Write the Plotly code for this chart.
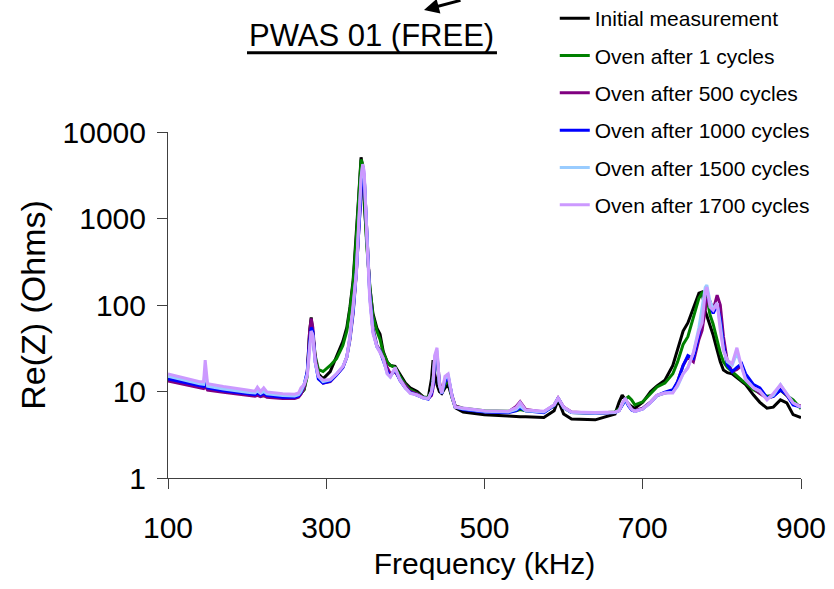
import plotly.graph_objects as go

freq_khz = [100,120,140,145,147,150,170,200,210,213,
            217,221,225,245,260,265,268,272,276,279,
            281,283,286,290,296,305,313,321,326,330,
            334,338,341,344,346,348,351,355,359,364,
            368,372,377,381,387,393,400,406,415,423,
            429,433,435,437,440,443,446,450,454,459,
            463,473,500,530,540,545,552,575,588,593,
            600,610,640,665,670,674,678,682,686,690,
            700,710,718,728,738,744,751,757,764,771,
            775,779,781,785,789,794,798,802,807,813,
            819,825,830,840,848,857,865,874,882,890,
            900]

initial = [13.5,12.3,11.3,11.1,11.5,10.8,10.1,9.3,9.1,9.2,
           8.9,9.0,8.8,8.5,8.5,8.8,9.4,10.5,16,50,
           72,48,24,16,14,17,25,38,55,95,
           194,620,1800,5100,4000,1500,500,160,80,54,
           46,29,22,20,19.5,16,12.5,11,10,8.6,
           8.5,14,23,16,12,10,9.5,11,12,8.5,
           6.5,5.8,5.4,5.2,5.1,5.1,5.1,5.0,6.0,8.0,
           5.5,4.8,4.7,5.5,7.5,9.1,8.0,7.2,6.7,6.4,
           7.5,10,11.6,13.5,20,30,50,62,95,137,
           141,85,75,59,45,30,22,17.7,16.5,16,
           14.5,13.3,12,9.1,7.5,6.4,6.6,8.0,7.4,5.4,
           5.0]

oven_1 = [14,12.8,11.8,11.6,12,11.2,10.4,9.5,9.3,9.5,
          9.1,9.3,9.0,8.7,8.7,9.0,9.5,10.5,15,45,
          66,48,26,18,17,20,24,34,50,90,
          180,600,1700,4800,4200,1600,520,170,75,50,
          40,28,22,20,19,15,12,10.5,9.5,8.6,
          8.6,10,14,20,25,12,9.6,12,14,8.5,
          6.8,6.4,6.0,5.9,6.0,6.2,6.0,5.8,6.8,8.3,
          6.5,5.7,5.6,5.8,6.3,7.0,8.2,8.7,8.0,7.0,
          7.6,9.5,11.3,12.5,16,22,35,43,72,120,
          138,141,125,77,60,39,28,22,19,17,
          15,13.5,12.5,10.5,9.6,8.8,9.0,10.4,9.0,8.0,
          6.3]

oven_500 = [13.2,12,11,10.8,11.5,10.4,9.8,9.0,8.8,9.0,
            8.7,9.0,8.6,8.3,8.3,8.6,9.3,11,17,50,
            70,55,25,15,12.5,13,15.5,19,25,40,
            80,230,700,2500,4000,3000,800,140,55,34,
            30,24,19,16,17,14,11.5,10,9.3,8.5,
            8.3,9,11,20,27,13,9.6,13,15,9,
            6.8,6.3,5.9,5.8,6.7,7.6,6.2,5.8,7,8.4,
            6.6,5.8,5.6,5.7,6.0,7.0,8.2,7.0,6.2,6.0,
            6.4,7.6,9.0,9.6,10,13,20,25,22,40,
            51,90,115,110,87,130,100,43,22,17,
            18,20,15,11,9.5,8.4,8.8,10.5,9,7.2,
            6.8]

oven_1000 = [14,12.7,11.6,11.4,13,11,10.2,9.4,9.2,9.6,
             9.1,9.5,9.0,8.6,8.6,8.9,9.8,12,17,38,
             55,50,22,14,12.5,13.2,15.5,19,25,42,
             85,240,750,2600,4000,3000,750,130,50,33,
             29,23,17,15,18,13.5,11,9.8,9.0,8.4,
             8.2,9.5,12,22,26,12,9.4,13,15,8.8,
             6.6,6.2,5.8,5.7,6.0,6.5,6.0,5.7,6.9,8.4,
             6.5,5.7,5.6,5.7,6.0,7.0,8.0,6.8,6.1,5.9,
             6.3,7.5,9.0,9.8,10.5,13,20,26,24,45,
             80,140,150,100,80,100,70,35,20,17,
             19,21,16,12,11,8.5,8.8,10.4,9.2,7.0,
             6.6]

oven_1500 = [15,13.5,12.3,12.1,18,11.5,10.7,9.8,9.6,10.2,
             9.5,10,9.4,9.0,8.9,9.2,10,12,16,33,
             50,45,22,15,13,13.6,16,19.5,25,42,
             90,240,800,2800,4100,3200,800,125,50,33,
             29,24,16,14.7,18.5,14,11,9.6,9.1,8.4,
             8.3,10,13,25,30,12,9.5,14,16,8.8,
             6.6,6.3,5.9,5.8,6.2,6.8,6.0,5.8,7.0,8.4,
             6.5,5.7,5.6,5.7,6.0,7.2,8.3,7.0,6.2,5.9,
             6.3,7.5,9.0,9.6,9.8,11.5,16,19,28,55,
             90,160,170,110,90,105,60,30,22,20,
             28,19,14,11,10,8.2,9,12,9.5,7.4,
             6.6]

oven_1700 = [16,14.3,13,13,23,12.3,11.4,10.4,10.1,11.2,
             10,11,9.9,9.4,9.3,9.6,11,12,15,30,
             50,44,22,15,13.5,13.8,16,19.5,25,45,
             95,235,900,3000,4260,3500,700,114,47,33,
             28,24,16,14.7,19,13.6,11,9.5,9.1,8.4,
             8.3,10,13,26,32,12,9.6,15,16,8.7,
             6.6,6.4,6.0,5.9,6.5,7.5,6.1,5.9,7.0,8.4,
             6.6,5.8,5.7,5.8,6.0,7.3,8.4,7.1,6.2,5.9,
             6.3,7.5,9.1,9.6,9.6,11.9,16,18.7,28,50,
             62,140,162,95,87,105,51,30,23,21,
             32,19,13.6,11,10.2,8.0,9.5,12,9.5,7.4,
             6.6]

series_names = ["Initial measurement", "Oven after 1 cycles", "Oven after 500 cycles",
                "Oven after 1000 cycles", "Oven after 1500 cycles", "Oven after 1700 cycles"]
series_values = [initial, oven_1, oven_500, oven_1000, oven_1500, oven_1700]
series_colors = ["#000000", "#008000", "#800080", "#0000FF", "#99CCFF", "#CC99FF"]

x_ticks = [100, 300, 500, 700, 900]
y_ticks = [1, 10, 100, 1000, 10000]
y_ticktext = ["1", "10", "100", "1000", "10000"]

FONT = "Liberation Sans, Arial, sans-serif"

fig = go.Figure()
for name, vals, col in zip(series_names, series_values, series_colors):
    fig.add_trace(go.Scatter(x=freq_khz, y=vals, mode="lines", name=name,
                             legendgroup=name,
                             line=dict(color=col, width=3)))

axis_col = "#404040"
fig.update_layout(
    width=834, height=589,
    margin=dict(l=168, r=33, t=132, b=111, autoexpand=False),
    plot_bgcolor="white", paper_bgcolor="white",
    font=dict(family=FONT, size=30, color="black"),
    legend=dict(x=0.611, y=1.387, xanchor="left", yanchor="top",
                font=dict(size=21, family=FONT), tracegroupgap=7,
                bgcolor="rgba(0,0,0,0)"),
    xaxis=dict(range=[100, 900], tickvals=x_ticks, showline=True, linecolor=axis_col,
               linewidth=1, ticks="outside", ticklen=10, tickcolor=axis_col,
               showgrid=False, zeroline=False, ticklabelstandoff=13,
               title=dict(text="Frequency (kHz)", font=dict(size=30), standoff=9)),
    yaxis=dict(type="log", range=[0, 4], tickvals=y_ticks, ticktext=y_ticktext,
               showline=True, linecolor=axis_col, linewidth=1, ticks="outside",
               ticklen=10, tickcolor=axis_col, showgrid=False, zeroline=False,
               ticklabelstandoff=5,
               title=dict(text="Re(Z) (Ohms)", font=dict(size=34), standoff=6)),
)

# Title with thick underline
fig.add_annotation(text="PWAS 01 (FREE)", xref="paper", yref="paper",
                   x=0.322, y=1.28, showarrow=False, xanchor="center", yanchor="middle",
                   font=dict(size=31, family=FONT, color="black"))
fig.add_shape(type="line", xref="paper", yref="paper", x0=0.1248, x1=0.5197,
              y0=1.229, y1=1.229, line=dict(color="black", width=3))
# Arrow (partially cut at top)
fig.add_annotation(text="", xref="paper", yref="paper", x=0.4044, y=1.3526,
                   showarrow=True, ax=38, ay=-20, arrowhead=2, arrowsize=1,
                   arrowwidth=3, arrowcolor="black")

fig.write_html("out.html")
